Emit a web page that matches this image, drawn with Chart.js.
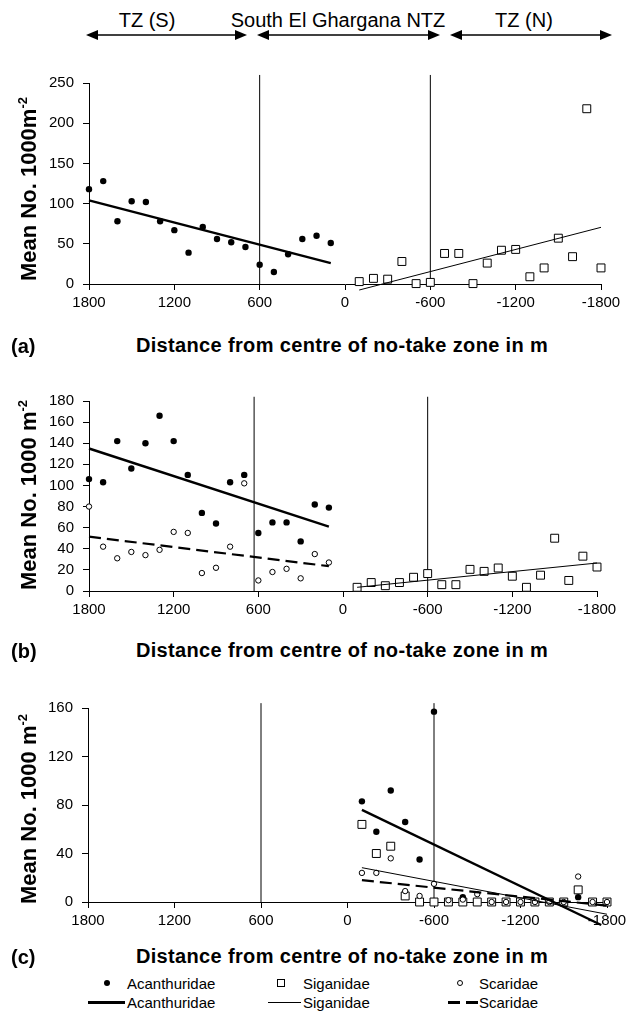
<!doctype html>
<html lang="en">

<head>
    <meta charset="utf-8">
    <title>Fish density vs distance from NTZ centre</title>
    <script src="https://cdn.jsdelivr.net/npm/chart.js"></script>
    <style>
        body { margin: 0; width: 639px; height: 1016px; position: relative; overflow: hidden; background: #fff;
               font-family: "Liberation Sans", Arial, sans-serif; color: #000; }
        .abs { position: absolute; white-space: nowrap; line-height: 1; }
        .c { transform: translate(-50%, -50%); }
        .zone { font-size: 20px; }
        .ytitle { font-size: 22px; font-weight: bold; left: 29px; transform: translate(-50%, -50%) rotate(-90deg); }
        .ytitle sup { font-size: 13px; vertical-align: 9px; line-height: 0; }
        .xtitle { font-size: 20px; font-weight: bold; left: 342px; letter-spacing: 0.35px; }
        .plabel { font-size: 20px; font-weight: bold; left: 11px; transform: translateY(-50%); }
        canvas { position: absolute; left: 0; }
        .leg { font-size: 15px; transform: translateY(-50%); }
        .mk { position: absolute; box-sizing: border-box; }
    </style>
</head>

<body>
    <svg class="abs" style="left:0;top:0" width="639" height="60">
        <g stroke="#000" stroke-width="1.5" fill="#000">
            <line x1="92" y1="35" x2="241" y2="35" />
            <polygon points="86,35 98,30 98,40" stroke="none" />
            <polygon points="247,35 235,30 235,40" stroke="none" />
            <line x1="263" y1="35" x2="434" y2="35" />
            <polygon points="257,35 269,30 269,40" stroke="none" />
            <polygon points="440,35 428,30 428,40" stroke="none" />
            <line x1="456" y1="35" x2="606" y2="35" />
            <polygon points="450,35 462,30 462,40" stroke="none" />
            <polygon points="612,35 600,30 600,40" stroke="none" />
        </g>
    </svg>
    <div class="abs c zone" style="left:147px;top:20px">TZ (S)</div>
    <div class="abs c zone" style="left:338px;top:20px">South El Ghargana NTZ</div>
    <div class="abs c zone" style="left:524px;top:20px">TZ (N)</div>

    <canvas id="chartA"></canvas>
    <canvas id="chartB"></canvas>
    <canvas id="chartC"></canvas>

    <div class="abs ytitle" style="top:189px">Mean No. 1000m<sup>-2</sup></div>
    <div class="abs ytitle" style="top:495px">Mean No. 1000 m<sup>-2</sup></div>
    <div class="abs ytitle" style="top:809px">Mean No. 1000 m<sup>-2</sup></div>

    <div class="abs c xtitle" style="top:345px">Distance from centre of no-take zone in m</div>
    <div class="abs c xtitle" style="top:650px">Distance from centre of no-take zone in m</div>
    <div class="abs c xtitle" style="top:956px">Distance from centre of no-take zone in m</div>
    <div class="abs plabel" style="top:346px">(a)</div>
    <div class="abs plabel" style="top:651px">(b)</div>
    <div class="abs plabel" style="top:957px">(c)</div>

    <!-- legend -->
    <div class="mk" style="left:104px;top:980px;width:6px;height:6px;border-radius:50%;background:#000"></div>
    <div class="abs leg" style="left:127px;top:983px">Acanthuridae</div>
    <div class="mk" style="left:277px;top:979px;width:8px;height:8px;border:1px solid #000"></div>
    <div class="abs leg" style="left:303px;top:983px">Siganidae</div>
    <div class="mk" style="left:457px;top:980px;width:6px;height:6px;border:1px solid #000;border-radius:50%"></div>
    <div class="abs leg" style="left:479px;top:983px">Scaridae</div>
    <div class="mk" style="left:88px;top:1001px;width:37px;height:2.5px;background:#000"></div>
    <div class="abs leg" style="left:127px;top:1002px">Acanthuridae</div>
    <div class="mk" style="left:268px;top:1002px;width:33px;height:1px;background:#000"></div>
    <div class="abs leg" style="left:303px;top:1002px">Siganidae</div>
    <div class="mk" style="left:448px;top:1001px;width:12px;height:2.5px;background:#000"></div>
    <div class="mk" style="left:466px;top:1001px;width:12px;height:2.5px;background:#000"></div>
    <div class="abs leg" style="left:479px;top:1002px">Scaridae</div>

    <script>
        // distances (m) from the NTZ centre; positive = south side, negative = north side
        const distS = [1800, 1700, 1600, 1500, 1400, 1300, 1200, 1100, 1000, 900, 800, 700, 600, 500, 400, 300, 200, 100];
        const distN = [-100, -200, -300, -400, -500, -600, -700, -800, -900, -1000, -1100, -1200, -1300, -1400, -1500, -1600, -1700, -1800];
        const xTicks = [1800, 1200, 600, 0, -600, -1200, -1800];

        // (a)
        const aAcanS = [118, 128, 78, 103, 102, 78, 67, 39, 71, 56, 52, 46, 24, 15, 37, 56, 60, 51];
        const aSigN = [3, 7, 6, 28, 0.5, 2, 38, 38, 0.5, 26, 42, 43, 9, 20, 57, 34, 218, 20];
        const aTrendAcanS = [[1800, 104], [100, 26]];
        const aTrendSigN = [[-100, -7.5], [-1800, 70.5]];
        const aBounds = [600, -600];
        const aBoundTop = 260;

        // (b)
        const bAcanS = [106, 103, 142, 116, 140, 166, 142, 110, 74, 64, 103, 110, 55, 65, 65, 47, 82, 79];
        const bScarS = [80, 42, 31, 37, 34, 39, 56, 55, 17, 22, 42, 102, 10, 18, 21, 12, 35, 27];
        const bSigN = [3.5, 8, 5, 8, 13, 16.5, 6, 6, 20.5, 18.6, 21.8, 14, 3.5, 15, 50, 10, 33, 22.7];
        const bTrendAcanS = [[1800, 135], [100, 61]];
        const bTrendScarS = [[1800, 51.5], [100, 23.5]];
        const bTrendSigN = [[-100, 3.5], [-1800, 26.5]];
        const bBounds = [630, -600];
        const bBoundTop = 184;

        // (c)
        const cAcanN = [83, 58, 92, 66, 35, 157, 0, 4, 0, 0, 0, 0, 0, 0, 0, 4, 0, 0];
        const cSigN = [64, 40, 46, 5, 0, 0, 0, 0, 0, 0, 0, 0, 0, 0, 0, 10, 0, 0];
        const cScarN = [24, 24, 36, 9, 5, 15, 1.5, 2, 6.5, 0, 0, 0, 0, 0, 0, 21, 0, 0];
        const cTrendAcanN = [[-100, 76], [-1760, -19]];
        const cTrendSigN = [[-100, 28.3], [-1800, -10.1]];
        const cTrendScarN = [[-100, 18], [-1800, -3]];
        const cBounds = [600, -600];
        const cBoundTop = 164;

        Chart.defaults.font.family = '"Liberation Sans", Arial, sans-serif';
        Chart.defaults.color = '#000';

        function pts(xs, ys) { return xs.map((x, i) => ({ x: x, y: ys[i] })); }
        function seg(p) { return p.map(q => ({ x: q[0], y: q[1] })); }

        function filled(xs, ys) {
            return { data: pts(xs, ys), pointStyle: 'circle', pointRadius: 3.2, backgroundColor: '#000', borderColor: '#000', borderWidth: 0, order: 5 };
        }
        function squares(xs, ys) {
            return { data: pts(xs, ys), pointStyle: 'rect', pointRadius: 5.6, backgroundColor: '#fff', borderColor: '#000', borderWidth: 1, order: 4 };
        }
        function rings(xs, ys) {
            return { data: pts(xs, ys), pointStyle: 'circle', pointRadius: 2.7, backgroundColor: '#fff', borderColor: '#000', borderWidth: 1, order: 3 };
        }
        function trend(p, w, dash) {
            return { data: seg(p), showLine: true, pointRadius: 0, borderColor: '#000', borderWidth: w, borderDash: dash || [], order: 1 };
        }
        function bounds(b, top) {
            return b.map(x => ({ data: [{ x: x, y: 0 }, { x: x, y: top }], showLine: true, pointRadius: 0, borderColor: '#000', borderWidth: 1, order: 6 }));
        }

        function makePanel(id, area, yMax, yStep, sets) {
            const cv = document.getElementById(id);
            const h = area.bottom - area.top + 30 + 40;
            cv.style.top = (area.top - 30) + 'px';
            cv.width = 639;
            cv.height = h;
            sets.forEach(s => { s.clip = false; });
            new Chart(cv, {
                type: 'scatter',
                data: { datasets: sets },
                options: {
                    responsive: false,
                    animation: false,
                    devicePixelRatio: 1,
                    layout: { padding: { left: area.left - 55, right: 639 - area.right, top: 30, bottom: 0 } },
                    plugins: { legend: { display: false }, tooltip: { enabled: false } },
                    scales: {
                        x: {
                            type: 'linear', min: -1800, max: 1800, reverse: true,
                            afterFit: s => { s.height = 40; },
                            afterBuildTicks: s => { s.ticks = xTicks.map(v => ({ value: v })); },
                            ticks: { color: '#000', font: { size: 15 }, padding: 4, maxRotation: 0, autoSkip: false, callback: v => String(v) },
                            grid: { drawOnChartArea: false, color: '#000', tickLength: 6 },
                            border: { color: '#000', width: 1 }
                        },
                        y: {
                            min: 0, max: yMax,
                            afterFit: s => { s.width = 55; },
                            ticks: { stepSize: yStep, color: '#000', font: { size: 15 }, padding: 9, callback: v => String(v) },
                            grid: { drawOnChartArea: false, color: '#000', tickLength: 6 },
                            border: { color: '#000', width: 1 }
                        }
                    }
                }
            });
        }

        makePanel('chartA', { left: 89, top: 83, right: 601, bottom: 284 }, 250, 50, [
            trend(aTrendAcanS, 2.4), trend(aTrendSigN, 1),
            filled(distS, aAcanS), squares(distN, aSigN),
            ...bounds(aBounds, aBoundTop)
        ]);

        makePanel('chartB', { left: 89, top: 401, right: 597, bottom: 591 }, 180, 20, [
            trend(bTrendAcanS, 2.4), trend(bTrendScarS, 2.2, [12, 6]), trend(bTrendSigN, 1),
            filled(distS, bAcanS), rings(distS, bScarS), squares(distN, bSigN),
            ...bounds(bBounds, bBoundTop)
        ]);

        makePanel('chartC', { left: 88, top: 708, right: 607, bottom: 902 }, 160, 40, [
            trend(cTrendAcanN, 2.4), trend(cTrendSigN, 1), trend(cTrendScarN, 2.2, [12, 6]),
            rings(distN, cScarN), squares(distN, cSigN), filled(distN, cAcanN),
            ...bounds(cBounds, cBoundTop)
        ]);
    </script>
</body>

</html>
